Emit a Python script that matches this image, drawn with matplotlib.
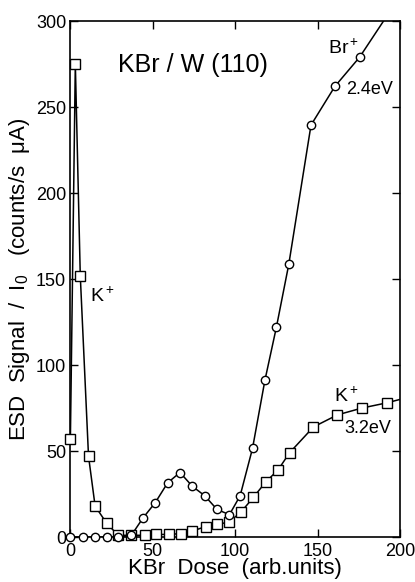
import matplotlib
matplotlib.use("Agg")
import matplotlib.pyplot as plt

plt.rcParams['font.family'] = ['Liberation Sans', 'DejaVu Sans']
plt.rcParams['mathtext.fontset'] = 'custom'
plt.rcParams['mathtext.rm'] = 'Liberation Sans'
plt.rcParams['mathtext.it'] = 'Liberation Sans'

# K+ signal (squares)
k_dose = [0, 3, 6, 11, 15, 22, 29, 37, 45, 52, 60, 67, 74, 82, 89, 96,
          103.5, 111, 118.5, 126, 133, 147.5, 162, 177, 192, 200]
k_signal = [57, 275, 152, 47, 18, 8, 1, 1, 1, 1.5, 1.5, 2, 3.5, 6, 7.5, 8.5,
            14.5, 23, 32, 39, 49, 64, 71, 75, 78, 80]
k_marked = 25  # last point is where the curve meets the frame

# Br+ signal (circles)
br_dose = [0, 7.5, 15, 22, 29, 37, 44, 51.5, 59, 66.5, 74, 81.5, 89, 96.5,
           103, 110.5, 118, 125, 132.5, 146, 160.5, 175.5, 190]
br_signal = [0, 0, 0, 0, 0, 1, 11, 20, 31.5, 37.5, 29.5, 24, 16, 13,
             24, 51.5, 91, 122, 158.5, 239.5, 262, 279, 300]
br_marked = 22

fig = plt.figure(figsize=(4.15, 5.82), dpi=100)
ax = fig.add_axes([0.1696, 0.0773, 0.7943, 0.8866])

lw = 1.1
ax.plot(k_dose, k_signal, color='black', lw=lw)
ax.plot(k_dose[:k_marked], k_signal[:k_marked], ls='none', marker='s',
        ms=6.5, mfc='white', mec='black', mew=1.0, clip_on=False, zorder=3)
ax.plot(br_dose, br_signal, color='black', lw=lw)
ax.plot(br_dose[:br_marked], br_signal[:br_marked], ls='none', marker='o',
        ms=6, mfc='white', mec='black', mew=1.0, clip_on=False, zorder=4)

ax.set_xlim(0, 200)
ax.set_ylim(0, 300)
ax.set_xticks([0, 50, 100, 150, 200])
ax.set_yticks([0, 50, 100, 150, 200, 250, 300])
ax.tick_params(direction='in', length=6, width=1, labelsize=13,
               top=True, right=True)
ax.tick_params(axis='x', pad=4)
ax.tick_params(axis='y', pad=3)
for s in ax.spines.values():
    s.set_linewidth(1.2)

ax.set_xlabel('KBr  Dose  (arb.units)', fontsize=16, labelpad=-1)
ax.set_ylabel(r'ESD  Signal  /  I$_0$   (counts/s  $\mu$A)', fontsize=16,
              labelpad=3)

ax.text(0.145, 0.915, 'KBr / W (110)', transform=ax.transAxes, fontsize=18,
        ha='left', va='center')
ax.text(12, 140, r'K$^+$', fontsize=14, ha='left', va='center')
ax.text(166, 284, r'Br$^+$', fontsize=14, ha='center', va='center')
ax.text(167.5, 260, '2.4eV', fontsize=13, ha='left', va='center')
ax.text(167.5, 82, r'K$^+$', fontsize=14, ha='center', va='center')
ax.text(166, 63, '3.2eV', fontsize=13, ha='left', va='center')

fig.savefig('out.png', dpi=100)
